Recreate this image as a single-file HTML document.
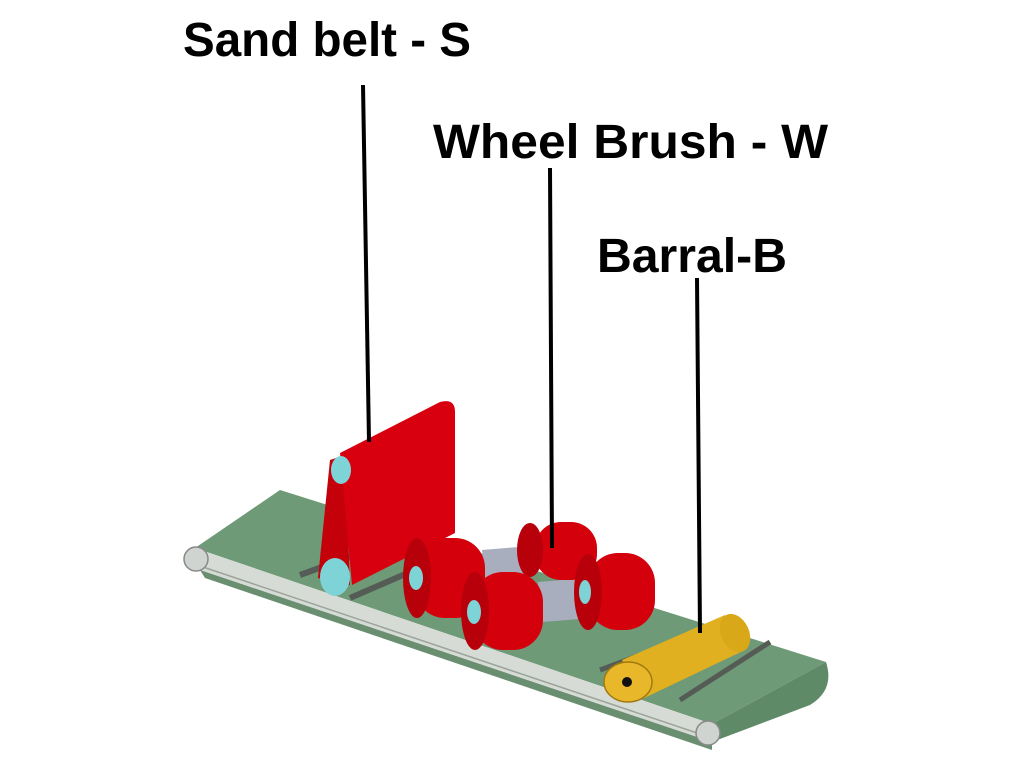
<!DOCTYPE html>
<html><head><meta charset="utf-8"><style>
html,body{margin:0;padding:0;background:#fff;width:1024px;height:768px;overflow:hidden}
</style></head><body>
<svg width="1024" height="768" viewBox="0 0 1024 768" xmlns="http://www.w3.org/2000/svg">
<rect width="1024" height="768" fill="#fff"/>
<g font-family="Liberation Sans, sans-serif" font-weight="bold" fill="#000">
<text x="183" y="56" font-size="48" textLength="288" lengthAdjust="spacingAndGlyphs">Sand belt - S</text>
<text x="433" y="158" font-size="48" textLength="395" lengthAdjust="spacingAndGlyphs">Wheel Brush - W</text>
<text x="597" y="272" font-size="48" textLength="190" lengthAdjust="spacingAndGlyphs">Barral-B</text>
</g>
<!-- conveyor -->
<polygon points="195,548 280,490 826,662 712,724" fill="#6f9a77"/>
<path d="M826,662 Q835,690 810,705 L712,742 L712,724 Z" fill="#5f8a68"/>
<polygon points="195,548 712,724 712,742 200,570" fill="#d6dbd6"/>
<polygon points="200,570 712,742 712,750 205,578" fill="#6a8f70"/>
<line x1="200" y1="566" x2="712" y2="738" stroke="#9aa49a" stroke-width="1.5"/>
<circle cx="196" cy="559" r="12" fill="#d0d4d0" stroke="#888" stroke-width="1.5"/>
<circle cx="708" cy="733" r="12" fill="#d0d4d0" stroke="#888" stroke-width="1.5"/>
<!-- rods -->
<line x1="300" y1="575" x2="355" y2="555" stroke="#555c55" stroke-width="6"/>
<line x1="350" y1="598" x2="410" y2="572" stroke="#555c55" stroke-width="6"/>
<line x1="600" y1="670" x2="680" y2="640" stroke="#555c55" stroke-width="5"/>
<line x1="680" y1="700" x2="770" y2="642" stroke="#555c55" stroke-width="5"/>
<!-- sand belt -->
<polygon points="330,460 345,455 350,585 318,578" fill="#c4000a"/>
<path d="M340,453 L440,402 Q455,398 455,412 L455,533 L352,585 Z" fill="#d8000e"/>
<ellipse cx="341" cy="470" rx="10" ry="14" fill="#7ed3d6"/>
<ellipse cx="335" cy="577" rx="15" ry="19" fill="#7ed3d6"/>
<!-- grey blocks -->
<polygon points="482,550 530,546 535,575 485,580" fill="#a9aebf"/>
<polygon points="538,582 588,578 592,618 542,622" fill="#a9aebf"/>
<!-- wheels -->
<g>
<rect x="535" y="522" width="62" height="58" rx="26" fill="#d4000c"/>
<ellipse cx="530" cy="550" rx="13" ry="27" fill="#b8000a"/>
<rect x="588" y="553" width="67" height="77" rx="30" fill="#d4000c"/>
<ellipse cx="588" cy="592" rx="14" ry="38" fill="#b8000a"/>
<ellipse cx="585" cy="592" rx="6" ry="12" fill="#7ed3d6"/>
<rect x="415" y="538" width="70" height="80" rx="30" fill="#d4000c"/>
<ellipse cx="417" cy="578" rx="14" ry="40" fill="#b8000a"/>
<ellipse cx="416" cy="578" rx="7" ry="12" fill="#7ed3d6"/>
<rect x="473" y="572" width="70" height="78" rx="30" fill="#d4000c"/>
<ellipse cx="475" cy="611" rx="14" ry="39" fill="#b8000a"/>
<ellipse cx="474" cy="612" rx="7" ry="12" fill="#7ed3d6"/>
</g>
<!-- barrel -->
<polygon points="622,660 725,615 745,650 640,700" fill="#e0b020"/>
<ellipse cx="735" cy="633" rx="14" ry="20" fill="#d8a818" transform="rotate(-25 735 633)"/>
<ellipse cx="628" cy="682" rx="24" ry="20" fill="#e8b82a" stroke="#a07a10" stroke-width="1.5"/>
<circle cx="627" cy="682" r="5" fill="#111"/>
<!-- leader lines -->
<g stroke="#000" stroke-width="4">
<line x1="363" y1="85" x2="369" y2="442"/>
<line x1="550" y1="168" x2="552" y2="548"/>
<line x1="697" y1="278" x2="700" y2="633"/>
</g>
</svg>
</body></html>
